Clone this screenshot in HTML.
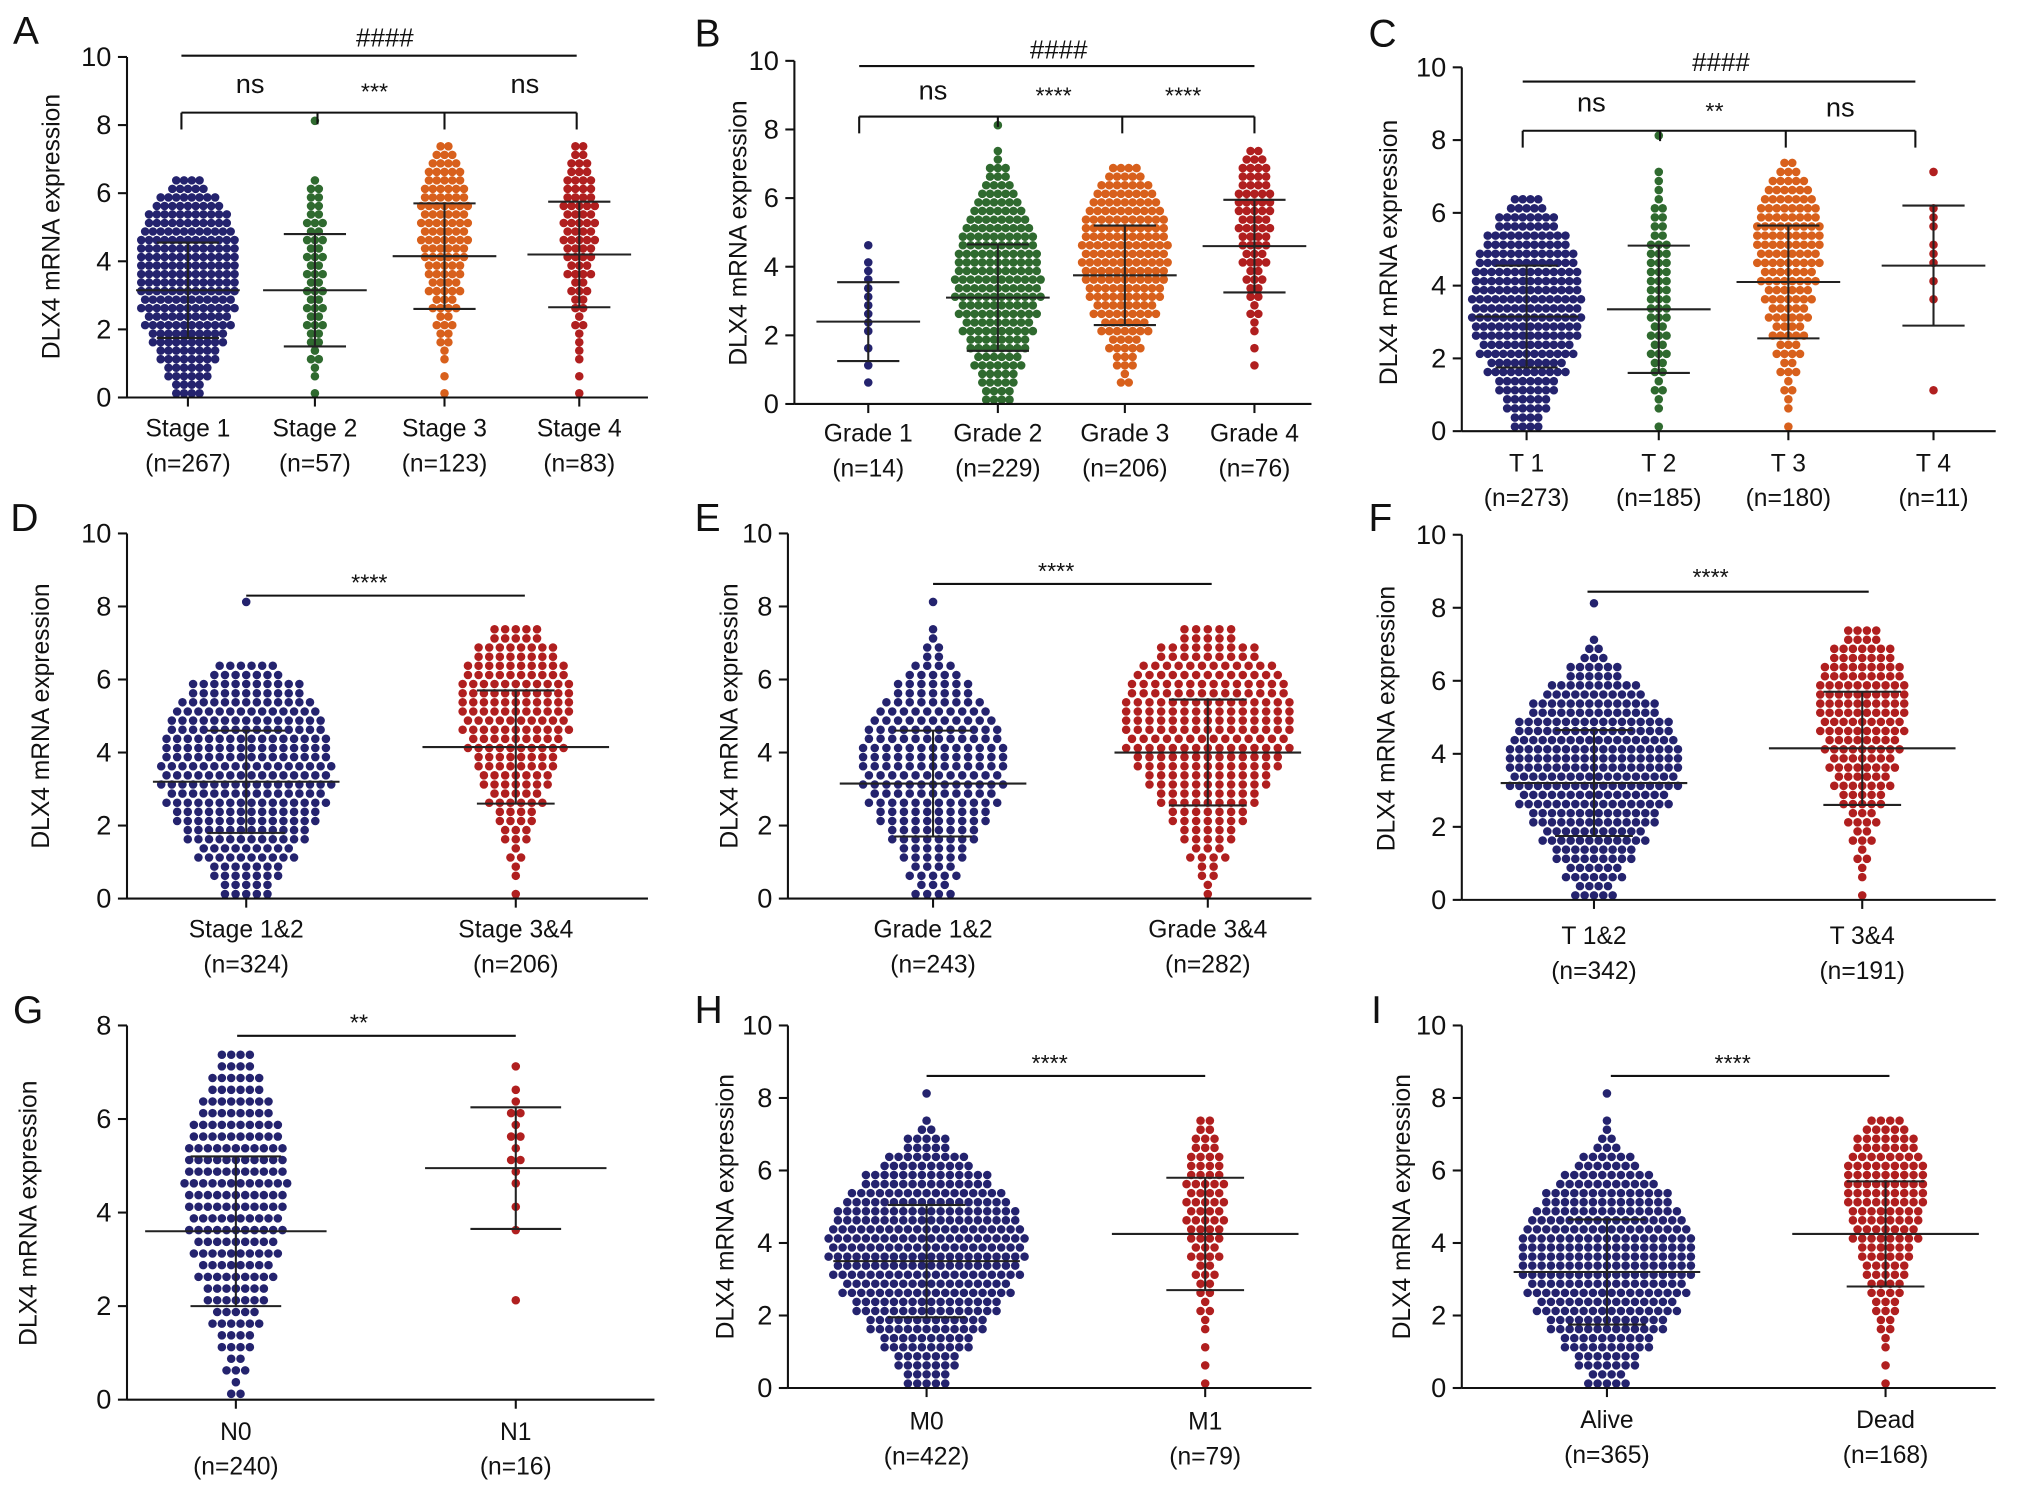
<!DOCTYPE html>
<html><head><meta charset="utf-8">
<style>
html,body{margin:0;padding:0;background:#fff;}
svg{display:block;}
text{font-family:"Liberation Sans",Arial,sans-serif;fill:#111;}
</style></head>
<body>
<svg id="fig" width="2032" height="1489" viewBox="0 0 1568 1150" preserveAspectRatio="none" xmlns="http://www.w3.org/2000/svg"></svg>
<script>
// ---- data: histogram counts per 0.5-unit bin (bin i = [0.5i, 0.5i+0.5)), means, SDs ----
const catA = ["Stage 1","Stage 2","Stage 3","Stage 4"];
const nA = ["(n=267)","(n=57)","(n=123)","(n=83)"];
const histA = [
 [8,12,16,20,23,25,26,26,26,25,22,17,9,0,0,0,0],
 [1,2,3,4,5,5,5,5,5,5,5,4,3,0,0,0,1],
 [1,1,2,4,5,7,9,10,12,13,13,13,11,9,5,0,0],
 [1,1,2,2,3,4,5,7,8,9,9,9,8,6,4,0,0]];
const meanA = [3.15,3.15,4.15,4.2];
const sdA = [1.4,1.65,1.55,1.55];

const catB = ["Grade 1","Grade 2","Grade 3","Grade 4"];
const nB = ["(n=14)","(n=229)","(n=206)","(n=76)"];
const histB = [
 [0,1,1,1,2,2,2,2,1,1,0,0,0,0,0,0,0],
 [8,10,13,16,19,21,23,23,22,20,17,13,9,6,2,0,1],
 [0,3,6,9,13,17,20,22,23,23,22,19,15,9,0,0,0],
 [0,0,1,1,2,3,4,5,7,8,9,10,9,8,5,0,0]];
const meanB = [2.4,3.1,3.75,4.6];
const sdB = [1.15,1.55,1.45,1.35];

const catC = ["T 1","T 2","T 3","T 4"];
const nC = ["(n=273)","(n=185)","(n=180)","(n=11)"];
const histC = [
 [8,12,16,21,25,28,29,29,28,26,22,16,9,0,0,0,0],
 [1,2,3,4,5,5,6,6,6,6,5,4,3,2,1,0,1],
 [1,2,3,5,7,9,11,13,15,17,18,17,15,11,5,0,0],
 [0,0,1,0,0,0,0,1,1,2,1,2,1,0,1,0,0]];
const meanC = [3.15,3.35,4.1,4.55];
const sdC = [1.4,1.75,1.55,1.65];

const catD = ["Stage 1&2","Stage 3&4"];
const nD = ["(n=324)","(n=206)"];
const histD = [
 [10,14,19,24,28,31,33,33,32,30,27,22,13,0,0,0,1],
 [1,2,3,6,8,11,14,16,19,21,22,22,20,16,10,0,0]];
const meanD = [3.2,4.15];
const sdD = [1.4,1.55];

const catE = ["Grade 1&2","Grade 3&4"];
const nE = ["(n=243)","(n=282)"];
const histE = [
 [7,9,12,16,20,23,25,26,25,23,19,14,9,4,2,0,1],
 [2,4,7,10,14,18,22,26,29,30,30,28,25,18,10,0,0]];
const meanE = [3.15,4.0];
const sdE = [1.45,1.45];

const catF = ["T 1&2","T 3&4"];
const nF = ["(n=342)","(n=191)"];
const histF = [
 [9,13,18,23,28,33,37,38,37,34,28,21,12,5,1,0,1],
 [1,2,3,5,7,10,13,15,17,19,20,20,18,14,8,0,0]];
const meanF = [3.2,4.15];
const sdF = [1.45,1.55];

const catG = ["N0","N1"];
const nG = ["(n=240)","(n=16)"];
const histG = [
 [3,5,8,11,14,17,19,21,22,23,22,20,16,12,8,0,0],
 [0,0,0,0,1,0,0,1,1,2,3,3,3,1,1,0,0]];
const meanG = [3.6,4.95];
const sdG = [1.6,1.3];

const catH = ["M0","M1"];
const nH = ["(n=422)","(n=79)"];
const histH = [
 [10,14,20,26,32,37,41,43,43,40,35,28,19,10,3,0,1],
 [1,1,1,2,3,4,5,7,8,9,9,9,8,6,4,0,0]];
const meanH = [3.5,4.25];
const sdH = [1.55,1.55];

const catI = ["Alive","Dead"];
const nI = ["(n=365)","(n=168)"];
const histI = [
 [9,14,20,26,31,35,38,38,37,33,28,21,13,5,2,0,1],
 [1,1,2,4,6,8,10,12,15,16,18,18,17,14,9,0,0]];
const meanI = [3.2,4.25];
const sdI = [1.45,1.45];

const ticks10 = [0,2,4,6,8,10];
const ticks8 = [0,2,4,6,8];
</script>
<script>
const NS="http://www.w3.org/2000/svg";
const svg=document.getElementById('fig');
const NAVY="#24236e",GREEN="#2f6a2f",ORANGE="#d8601c",RED="#b01f1f";
function mk(tag,attrs,parent){const e=document.createElementNS(NS,tag);for(const k in attrs)e.setAttribute(k,attrs[k]);(parent||svg).appendChild(e);return e;}

const panels=[
 {L:"A",lx:10,ly:34,ax:98,y0:307,yTop:44,ymax:10,xEnd:500,cx:[145,243,343,447],cats:catA,ns:nA,hist:histA,mean:meanA,sd:sdA,col:[NAVY,GREEN,ORANGE,RED],mw:40,sw:24,lab:333,tx:40,ty:175,sp:6.0},
 {L:"B",lx:536,ly:36,ax:613,y0:312,yTop:47,ymax:10,xEnd:1012,cx:[670,770,868,968],cats:catB,ns:nB,hist:histB,mean:meanB,sd:sdB,col:[NAVY,GREEN,ORANGE,RED],mw:40,sw:24,lab:337,tx:570,ty:180,sp:6.0},
 {L:"C",lx:1056,ly:36,ax:1128,y0:333,yTop:52,ymax:10,xEnd:1540,cx:[1178,1280,1380,1492],cats:catC,ns:nC,hist:histC,mean:meanC,sd:sdC,col:[NAVY,GREEN,ORANGE,RED],mw:40,sw:24,lab:360,tx:1072,ty:195,sp:6.0},
 {L:"D",lx:8,ly:410,ax:98,y0:694,yTop:412,ymax:10,xEnd:500,cx:[190,398],cats:catD,ns:nD,hist:histD,mean:meanD,sd:sdD,col:[NAVY,RED],mw:72,sw:30,lab:720,tx:32,ty:553,sp:8.2},
 {L:"E",lx:536,ly:410,ax:608,y0:694,yTop:412,ymax:10,xEnd:1012,cx:[720,932],cats:catE,ns:nE,hist:histE,mean:meanE,sd:sdE,col:[NAVY,RED],mw:72,sw:30,lab:720,tx:563,ty:553,sp:9.0},
 {L:"F",lx:1056,ly:410,ax:1128,y0:695,yTop:413,ymax:10,xEnd:1540,cx:[1230,1437],cats:catF,ns:nF,hist:histF,mean:meanF,sd:sdF,col:[NAVY,RED],mw:72,sw:30,lab:725,tx:1070,ty:555,sp:7.2},
 {L:"G",lx:10,ly:790,ax:98,y0:1081,yTop:792,ymax:8,xEnd:505,cx:[182,398],cats:catG,ns:nG,hist:histG,mean:meanG,sd:sdG,col:[NAVY,RED],mw:70,sw:35,lab:1108,tx:22,ty:937,t8:true,sp:7.2},
 {L:"H",lx:536,ly:790,ax:608,y0:1072,yTop:792,ymax:10,xEnd:1012,cx:[715,930],cats:catH,ns:nH,hist:histH,mean:meanH,sd:sdH,col:[NAVY,RED],mw:72,sw:30,lab:1100,tx:560,ty:932,sp:7.2},
 {L:"I",lx:1058,ly:790,ax:1128,y0:1072,yTop:792,ymax:10,xEnd:1540,cx:[1240,1455],cats:catI,ns:nI,hist:histI,mean:meanI,sd:sdI,col:[NAVY,RED],mw:72,sw:30,lab:1099,tx:1082,ty:932,sp:7.2}
];

panels.forEach(p=>{
  const g=mk('g',{});
  
  
  const Y=v=>p.y0-(v/p.ymax)*(p.y0-p.yTop);
  const lt=mk('text',{x:p.lx,y:p.ly,'font-size':30},g);lt.textContent=p.L;
  
  
  p.hist.forEach((h,gi)=>{
    const dg=mk('g',{fill:p.col[gi]},g);
    
    
    h.forEach((c,bi)=>{
      const rows=2;
      for(let r=0;r<rows;r++){
        const k=Math.floor(c/rows)+(r<c%rows?1:0);
        const v=bi*0.5+(r+0.5)*0.5/rows;
        for(let j=0;j<k;j++){
          const x=p.cx[gi]+(j-(k-1)/2)*p.sp;
          const d=mk('circle',{cx:x.toFixed(1),cy:Y(v).toFixed(1),r:3.3},dg);
          
          
        }
      }
    });
    const m=p.mean[gi],s=p.sd[gi],cx=p.cx[gi];
    const eg=mk('g',{stroke:'#222','stroke-width':1.6},g);
    
    
    mk('line',{x1:cx-p.mw,x2:cx+p.mw,y1:Y(m),y2:Y(m)},eg);
    mk('line',{x1:cx,x2:cx,y1:Y(m-s),y2:Y(m+s)},eg);
    mk('line',{x1:cx-p.sw,x2:cx+p.sw,y1:Y(m+s),y2:Y(m+s)},eg);
    mk('line',{x1:cx-p.sw,x2:cx+p.sw,y1:Y(m-s),y2:Y(m-s)},eg);
  });
  const ax=mk('g',{stroke:'#111','stroke-width':1.6},g);
  
  
  mk('line',{x1:p.ax,x2:p.ax,y1:p.yTop,y2:p.y0},ax);
  mk('line',{x1:p.ax,x2:p.xEnd,y1:p.y0,y2:p.y0},ax);
  const tk=p.t8?ticks8:ticks10;
  tk.forEach(t=>{
    mk('line',{x1:p.ax-7,x2:p.ax,y1:Y(t),y2:Y(t)},ax);
    const tt=mk('text',{x:p.ax-12,y:Y(t)+7,'font-size':21,'text-anchor':'end',stroke:'none'},g);
    tt.textContent=t;
    
    
  });
  p.cx.forEach((cx,gi)=>{
    mk('line',{x1:cx,x2:cx,y1:p.y0,y2:p.y0+7},ax);
    const a=mk('text',{x:cx,y:p.lab+4,'font-size':19,'text-anchor':'middle'},g);a.textContent=p.cats[gi];
    
    
    const b=mk('text',{x:cx,y:p.lab+31,'font-size':19,'text-anchor':'middle'},g);b.textContent=p.ns[gi];
    
    
  });
  const yt=mk('text',{x:0,y:0,'font-size':19,'text-anchor':'middle',transform:`translate(${p.tx+6},${p.ty}) rotate(-90)`},g);
  yt.textContent="DLX4 mRNA expression";
  
  
});

const ann=mk('g',{stroke:'#111','stroke-width':1.6,fill:'none'});


function L(x1,y1,x2,y2){mk('line',{x1,y1,x2,y2},ann);}
function T(x,y,s,fs){const t=mk('text',{x,y,'font-size':fs||20,'text-anchor':'middle',stroke:'none',fill:'#111'},ann);t.textContent=s;}
L(140,43,445,43);T(297,36,"####");
L(140,87,445,87);[140,343,445].forEach(x=>L(x,87,x,100));L(245,87,245,96);
T(193,72,"ns",21);T(289,77,"***",18);T(405,72,"ns",21);
L(663,51,968,51);T(817,45,"####");
L(663,90,968,90);[663,866,968].forEach(x=>L(x,90,x,103));L(770,90,770,98);
T(720,77,"ns",21);T(813,80,"****",18);T(913,80,"****",18);
L(1175,63,1478,63);T(1328,55,"####");
L(1175,101,1478,101);[1175,1378,1478].forEach(x=>L(x,101,x,114));L(1281,101,1281,109);
T(1228,86,"ns",21);T(1323,92,"**",18);T(1420,90,"ns",21);
L(190,460,405,460);T(285,456,"****",18);
L(720,451,935,451);T(815,447,"****",18);
L(1225,457,1442,457);T(1320,452,"****",18);
L(183,800,398,800);T(277,796,"**",18);
L(715,831,930,831);T(810,827,"****",18);
L(1243,831,1458,831);T(1337,827,"****",18);
</script>
</body></html>
